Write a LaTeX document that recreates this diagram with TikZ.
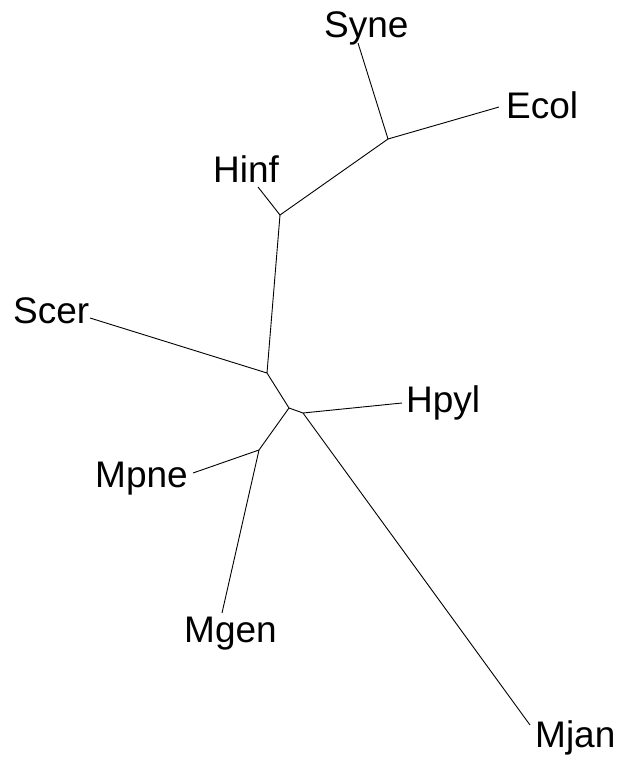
\documentclass[tikz,border=0pt]{standalone}
\usepackage{fontspec}
\setmainfont{Liberation Sans}
\begin{document}
\begin{tikzpicture}[x=1pt,y=-1pt,
  branch/.style={draw=black,line width=0.9pt},
  taxon/.style={anchor=base west,inner sep=0pt,font=\fontsize{37}{42}\selectfont}]
\useasboundingbox (0,0) rectangle (636,763);
% internal nodes
\coordinate (A) at (388,139);
\coordinate (B) at (280,215);
\coordinate (C) at (267,373);
\coordinate (D) at (289,408);
\coordinate (F) at (303,413);
\coordinate (E) at (259,450);
% leaf ends
\coordinate (syne) at (358,43);
\coordinate (ecol) at (499,107);
\coordinate (hinf) at (258,187);
\coordinate (scer) at (90,318);
\coordinate (hpyl) at (402,403);
\coordinate (mpne) at (193,473);
\coordinate (mgen) at (222,613);
\coordinate (mjan) at (530,725);
% labels
\node[taxon] (tSyne) at (324,37) {Syne};
\node[taxon] (tEcol) at (506,118) {Ecol};
\node[taxon] (tHinf) at (213,182) {Hinf};
\node[taxon] (tScer) at (13,323) {Scer};
\node[taxon] (tHpyl) at (406,412) {Hpyl};
\node[taxon] (tMpne) at (95,487) {Mpne};
\node[taxon] (tMgen) at (184,642) {Mgen};
\node[taxon] (tMjan) at (535,747) {Mjan};
% branches
\draw[branch] (syne) -- (A) -- (ecol);
\draw[branch] (A) -- (B) -- (hinf);
\draw[branch] (B) -- (C) -- (scer);
\draw[branch] (C) -- (D) -- (F) -- (hpyl);
\draw[branch] (F) -- (mjan);
\draw[branch] (D) -- (E) -- (mpne);
\draw[branch] (E) -- (mgen);
\end{tikzpicture}
\end{document}
